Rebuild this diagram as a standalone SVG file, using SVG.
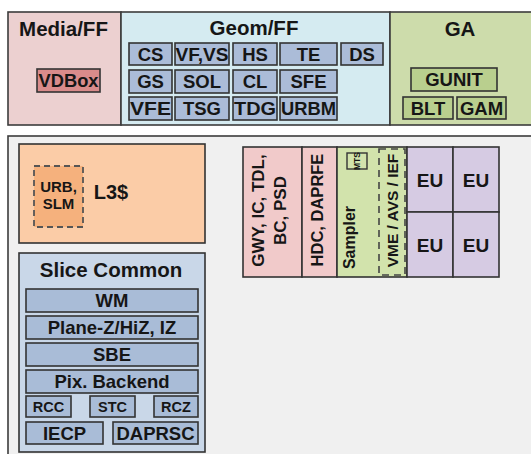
<svg xmlns="http://www.w3.org/2000/svg" width="531" height="454" viewBox="0 0 531 454">
  <style>
    text { font-family: "Liberation Sans", Arial, sans-serif; font-weight: bold; fill: #161616; text-anchor: middle; }
    .title { font-size: 20.5px; }
    .cell { font-size: 18.5px; }
    .small { font-size: 14.5px; }
    .band { stroke: #3c3c3c; stroke-width: 1.6; }
    .box { stroke: #333; stroke-width: 1.6; }
    .media { fill: #ecd0d0; }
    .vdbox { fill: #d98b8b; }
    .geom { fill: #d5ebf1; }
    .gcell { fill: #abbcd8; }
    .ga { fill: #cddcab; }
    .gacell { fill: #b9cf8e; }
    .slice { fill: #f0f0f0; }
    .l3 { fill: #fbcca7; }
    .urb { fill: #f5b17d; stroke: #555; stroke-width: 1.8; stroke-dasharray: 6 4; }
    .common { fill: #c9d7e8; }
    .ccell { fill: #a9bcd7; }
    .pink { fill: #f1caca; }
    .sampler { fill: #d2e3ac; }
    .eu { fill: #d6cbe3; }
    .dash { fill: none; stroke: #444; stroke-width: 1.6; stroke-dasharray: 7 5; }
  </style>

  <!-- Unslice: fixed-function blocks along the top -->
  <g id="media-ff">
    <rect class="band media" x="8" y="12" width="113" height="113"/>
    <text class="title" x="63.5" y="36">Media/FF</text>
    <g id="vdbox">
      <rect class="box vdbox" x="37" y="69" width="63" height="23"/>
      <text class="cell" x="68.5" y="87" textLength="60" lengthAdjust="spacingAndGlyphs">VDBox</text>
    </g>
  </g>

  <g id="geom-ff">
    <rect class="band geom" x="121" y="12" width="269" height="113"/>
    <text class="title" x="254" y="35">Geom/FF</text>
    <g id="geom-cells">
      <rect class="box gcell" x="129" y="43" width="43" height="22"/>
      <rect class="box gcell" x="175" y="43" width="54" height="22"/>
      <rect class="box gcell" x="233" y="43" width="44" height="22"/>
      <rect class="box gcell" x="280" y="43" width="57" height="22"/>
      <rect class="box gcell" x="341" y="43" width="42" height="22"/>
      <rect class="box gcell" x="129" y="70" width="43" height="23"/>
      <rect class="box gcell" x="175" y="70" width="54" height="23"/>
      <rect class="box gcell" x="233" y="70" width="44" height="23"/>
      <rect class="box gcell" x="280" y="70" width="57" height="23"/>
      <rect class="box gcell" x="129" y="97" width="43" height="23"/>
      <rect class="box gcell" x="175" y="97" width="54" height="23"/>
      <rect class="box gcell" x="233" y="97" width="44" height="23"/>
      <rect class="box gcell" x="280" y="97" width="57" height="23"/>
      <text class="cell" x="150.5" y="60.5">CS</text>
      <text class="cell" x="202" y="60.5" textLength="53" lengthAdjust="spacingAndGlyphs">VF,VS</text>
      <text class="cell" x="255" y="60.5">HS</text>
      <text class="cell" x="308.5" y="60.5">TE</text>
      <text class="cell" x="362" y="60.5">DS</text>
      <text class="cell" x="150.5" y="88">GS</text>
      <text class="cell" x="202" y="88">SOL</text>
      <text class="cell" x="255" y="88">CL</text>
      <text class="cell" x="308.5" y="88">SFE</text>
      <text class="cell" x="150.5" y="115" textLength="41" lengthAdjust="spacingAndGlyphs">VFE</text>
      <text class="cell" x="202" y="115">TSG</text>
      <text class="cell" x="255" y="115" textLength="42" lengthAdjust="spacingAndGlyphs">TDG</text>
      <text class="cell" x="308.5" y="115" textLength="55" lengthAdjust="spacingAndGlyphs">URBM</text>
    </g>
  </g>

  <g id="ga">
    <rect class="band ga" x="390" y="12" width="150" height="113"/>
    <text class="title" x="460" y="36">GA</text>
    <g id="gunit">
      <rect class="box gacell" x="411" y="68" width="86" height="23"/>
      <text class="cell" x="454" y="86">GUNIT</text>
    </g>
    <g id="blt">
      <rect class="box gacell" x="403" y="97" width="50" height="22"/>
      <text class="cell" x="428" y="114.5">BLT</text>
    </g>
    <g id="gam">
      <rect class="box gacell" x="457" y="97" width="49" height="22"/>
      <text class="cell" x="481.5" y="114.5">GAM</text>
    </g>
  </g>

  <!-- Slice -->
  <g id="slice">
    <rect class="band slice" x="8" y="136" width="540" height="330"/>
  </g>

  <g id="l3-cache">
    <rect class="box l3" x="19" y="144" width="186" height="99"/>
    <g id="urb-slm">
      <rect class="urb" x="34" y="166" width="49" height="61"/>
      <text x="58.5" y="192" font-size="15">URB,</text>
      <text x="58.5" y="209" font-size="15">SLM</text>
    </g>
    <text x="111" y="199" font-size="20">L3$</text>
  </g>

  <g id="slice-common">
    <rect class="box common" x="19" y="253" width="186" height="199"/>
    <text class="title" x="111" y="277">Slice Common</text>
    <rect class="box ccell" x="26" y="289" width="172" height="23"/>
    <text class="cell" x="112" y="307">WM</text>
    <rect class="box ccell" x="26" y="316" width="172" height="23"/>
    <text class="cell" x="112" y="334">Plane-Z/HiZ, IZ</text>
    <rect class="box ccell" x="26" y="343" width="172" height="23"/>
    <text class="cell" x="112" y="361">SBE</text>
    <rect class="box ccell" x="26" y="370" width="172" height="23"/>
    <text class="cell" x="112" y="388">Pix. Backend</text>
    <rect class="box ccell" x="26" y="396" width="45" height="21"/>
    <text class="small" x="48.5" y="411.5">RCC</text>
    <rect class="box ccell" x="90" y="396" width="45" height="21"/>
    <text class="small" x="112.5" y="411.5">STC</text>
    <rect class="box ccell" x="154" y="396" width="44" height="21"/>
    <text class="small" x="176" y="411.5">RCZ</text>
    <rect class="box ccell" x="26" y="422" width="77" height="22"/>
    <text class="cell" x="64.5" y="439.5">IECP</text>
    <rect class="box ccell" x="113" y="422" width="85" height="22"/>
    <text class="cell" x="155.5" y="439.5">DAPRSC</text>
  </g>

  <!-- Subslice -->
  <g id="gwy">
    <rect class="box pink" x="243" y="147" width="59" height="130"/>
    <text font-size="17" transform="translate(264,210.5) rotate(-90)">GWY, IC, TDL,</text>
    <text font-size="17" transform="translate(286,210.5) rotate(-90)">BC, PSD</text>
  </g>

  <g id="hdc">
    <rect class="box pink" x="302" y="147" width="35" height="130"/>
    <text font-size="16.5" transform="translate(323,210) rotate(-90)">HDC, DAPRFE</text>
  </g>

  <g id="sampler">
    <rect class="box sampler" x="337" y="147" width="70" height="130"/>
    <text font-size="16" transform="translate(355,237.5) rotate(-90)">Sampler</text>
    <g id="mts">
      <rect fill="none" stroke="#333" stroke-width="1.4" x="347" y="153" width="20" height="16"/>
      <text font-size="8.5" transform="translate(360,161) rotate(-90)">MTS</text>
    </g>
    <g id="vme">
      <rect class="dash" x="379" y="149" width="26" height="126"/>
      <text font-size="15.5" transform="translate(397.5,210.5) rotate(-90)">VME / AVS / IEF</text>
    </g>
  </g>

  <g id="eu-array">
    <rect class="box eu" x="407" y="147" width="46" height="65"/>
    <rect class="box eu" x="453" y="147" width="46" height="65"/>
    <rect class="box eu" x="407" y="212" width="46" height="65"/>
    <rect class="box eu" x="453" y="212" width="46" height="65"/>
    <text font-size="19" x="430" y="186.5">EU</text>
    <text font-size="19" x="476" y="186.5">EU</text>
    <text font-size="19" x="430" y="251.5">EU</text>
    <text font-size="19" x="476" y="251.5">EU</text>
  </g>
</svg>
